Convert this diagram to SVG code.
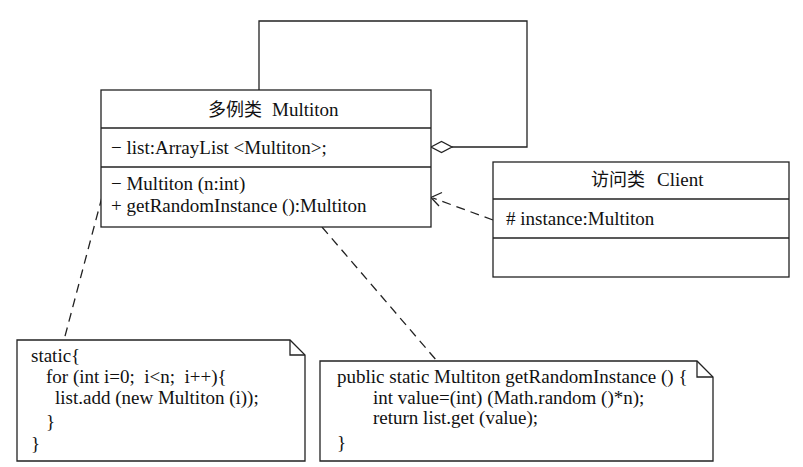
<svg xmlns="http://www.w3.org/2000/svg" width="803" height="467" viewBox="0 0 803 467">
<style>
.box{fill:#fff;stroke:#222;stroke-width:1.3}
.ln{fill:none;stroke:#222;stroke-width:1.3}
.dash{fill:none;stroke:#222;stroke-width:1.3;stroke-dasharray:9,6}
text{font-family:"Liberation Serif","Noto Sans CJK SC",serif;font-size:19px;fill:#111}
.cjk{font-family:"Noto Sans CJK SC",sans-serif;font-size:18px}
</style>
<rect width="803" height="467" fill="#fff"/>
<g id="connectors">
<polyline class="ln" points="259,90 259,21 527,21 527,147 452,147"/>
<polygon class="box" points="431,147 441.5,141.5 452,147 441.5,152.5"/>
<line class="dash" x1="493" y1="220" x2="433" y2="198"/>
<polyline class="ln" points="442,192.5 431,197.5 439,206"/>
<line class="dash" x1="102" y1="197" x2="64" y2="340"/>
<line class="dash" x1="322" y1="227" x2="437" y2="361"/>
</g>
<g id="multiton">
<rect class="box" x="101" y="90" width="330" height="137"/>
<line class="ln" x1="101" y1="128" x2="431" y2="128"/>
<line class="ln" x1="101" y1="167" x2="431" y2="167"/>
<text x="208" y="116"><tspan class="cjk">多例类</tspan><tspan dx="10">Multiton</tspan></text>
<text x="111" y="154">− list:ArrayList &lt;Multiton&gt;;</text>
<text x="111" y="190">− Multiton (n:int)</text>
<text x="111" y="212">+ getRandomInstance ():Multiton</text>
</g>
<g id="client">
<rect class="box" x="493" y="162" width="296" height="115"/>
<line class="ln" x1="493" y1="199" x2="789" y2="199"/>
<line class="ln" x1="493" y1="238" x2="789" y2="238"/>
<text x="591" y="186"><tspan class="cjk">访问类</tspan><tspan dx="12">Client</tspan></text>
<text x="506" y="225"># instance:Multiton</text>
</g>
<g id="note1">
<path class="box" d="M17,340 H290 L305,355 V461 H17 Z"/>
<polyline class="ln" points="290,340 290,355 305,355"/>
<text x="31" y="362">static{</text>
<text x="46" y="383" xml:space="preserve">for (int i=0;  i&lt;n;  i++){</text>
<text x="55" y="404">list.add (new Multiton (i));</text>
<text x="46" y="428">}</text>
<text x="31" y="450">}</text>
</g>
<g id="note2">
<path class="box" d="M320,361 H697 L713,377 V461 H320 Z"/>
<polyline class="ln" points="697,361 697,377 713,377"/>
<text x="337" y="383">public static Multiton getRandomInstance () {</text>
<text x="373" y="404">int value=(int) (Math.random ()*n);</text>
<text x="373" y="424">return list.get (value);</text>
<text x="337" y="449">}</text>
</g>
</svg>
